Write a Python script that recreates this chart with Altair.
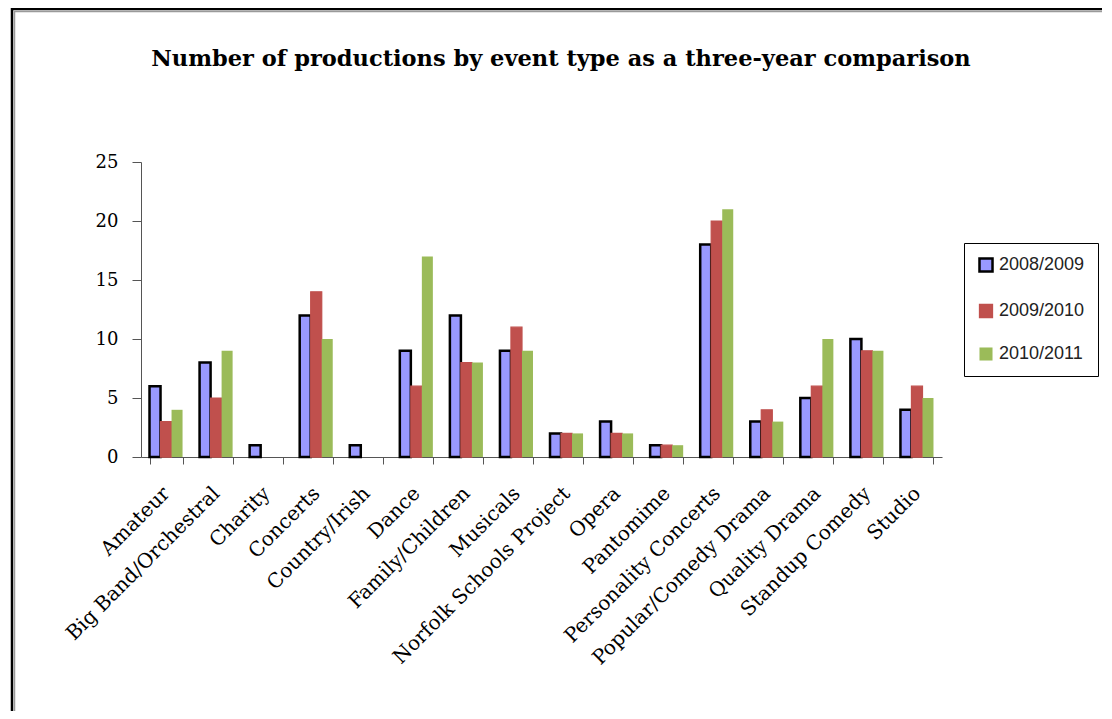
import altair as alt
import pandas as pd

categories = [
    "Amateur", "Big Band/Orchestral", "Charity", "Concerts", "Country/Irish",
    "Dance", "Family/Children", "Musicals", "Norfolk Schools Project", "Opera",
    "Pantomime", "Personality Concerts", "Popular/Comedy Drama", "Quality Drama",
    "Standup Comedy", "Studio",
]
series = ["2008/2009", "2009/2010", "2010/2011"]
values_2008_2009 = [6, 8, 1, 12, 1, 9, 12, 9, 2, 3, 1, 18, 3, 5, 10, 4]
values_2009_2010 = [3, 5, 0, 14, 0, 6, 8, 11, 2, 2, 1, 20, 4, 6, 9, 6]
values_2010_2011 = [4, 9, 0, 10, 0, 17, 8, 9, 2, 2, 1, 21, 3, 10, 9, 5]
y_ticks = [0, 5, 10, 15, 20, 25]
title_text = "Number of productions by event type as a three-year comparison"

fill_colors = ["#9999FF", "#C0504D", "#9BBB59"]
stroke_colors = ["#000000", "#C0504D", "#9BBB59"]
stroke_widths = [2.5, 0, 0]

rows = []
for s, vals in zip(series, [values_2008_2009, values_2009_2010, values_2010_2011]):
    for c, v in zip(categories, vals):
        rows.append({"category": c, "series": s, "value": v})
df = pd.DataFrame(rows)

W, H = 801, 295
PAD_L, PAD_T = 133, 154
TOTAL_W, TOTAL_H = 1094, 703

serif = "DejaVu Serif"

bars = alt.Chart(df).transform_filter("datum.value > 0").mark_bar().encode(
    x=alt.X(
        "category:N",
        sort=categories,
        scale=alt.Scale(domain=categories, paddingInner=0.34, paddingOuter=0.17),
        axis=alt.Axis(
            title=None,
            labelAngle=-45,
            labelAlign="right",
            labelBaseline="middle",
            labelFont=serif,
            labelFontSize=20,
            labelColor="black",
            labelPadding=26,
            labelLimit=0,
            tickBand="extent",
            tickSize=7,
            tickColor="#555555",
            domainColor="#555555",
            labelOverlap=False,
        ),
    ),
    xOffset=alt.XOffset(
        "series:N", sort=series,
        scale=alt.Scale(domain=series, paddingInner=0, paddingOuter=0),
    ),
    y=alt.Y(
        "value:Q",
        scale=alt.Scale(domain=[0, 25], nice=False),
        axis=alt.Axis(
            title=None,
            values=y_ticks,
            grid=False,
            labelFont=serif,
            labelFontSize=18,
            labelColor="black",
            labelPadding=14,
            tickSize=9,
            tickColor="#555555",
            domainColor="#555555",
        ),
    ),
    color=alt.Color(
        "series:N",
        sort=series,
        scale=alt.Scale(domain=series, range=fill_colors),
        title=None,
        legend=alt.Legend(
            orient="none",
            legendX=823,
            legendY=81,
            strokeColor="black",
            fillColor="white",
            padding=13,
            rowPadding=24,
            symbolType="square",
            symbolSize=170,
            symbolOpacity=1,
            labelFont="Liberation Sans",
            labelFontSize=18,
            labelColor="#222222",
            labelOffset=4,
        ),
    ),
    stroke=alt.Stroke(
        "series:N",
        sort=series,
        scale=alt.Scale(domain=series, range=stroke_colors),
        title=None,
    ),
    strokeWidth=alt.StrokeWidth(
        "series:N",
        sort=series,
        scale=alt.Scale(domain=series, range=stroke_widths),
        title=None,
    ),
)

frame_data = alt.Data(values=[{"t": title_text}])
frame = alt.Chart(frame_data).mark_rect(
    fillOpacity=0, stroke="black", strokeWidth=2.5
).encode(
    x=alt.value(-129), x2=alt.value(1400), y=alt.value(-153), y2=alt.value(900)
)
frame_shadow = alt.Chart(frame_data).mark_rect(
    fillOpacity=0, stroke="#9a9a9a", strokeWidth=1.5
).encode(
    x=alt.value(-126.5), x2=alt.value(1400), y=alt.value(-150.5), y2=alt.value(900)
)
title = alt.Chart(frame_data).mark_text(
    font=serif, fontSize=22.5, fontWeight="bold", color="black",
    align="center", baseline="alphabetic",
).encode(
    text="t:N", x=alt.value(420), y=alt.value(-96)
)

chart = alt.layer(frame, frame_shadow, title, bars).properties(
    width=W,
    height=H,
    background="white",
    autosize=alt.AutoSizeParams(type="none"),
    padding={"left": PAD_L, "top": PAD_T, "right": TOTAL_W - PAD_L - W, "bottom": TOTAL_H - PAD_T - H},
).configure_view(strokeWidth=0)

chart.save("out.html", embed_options={"renderer": "svg", "actions": False})
